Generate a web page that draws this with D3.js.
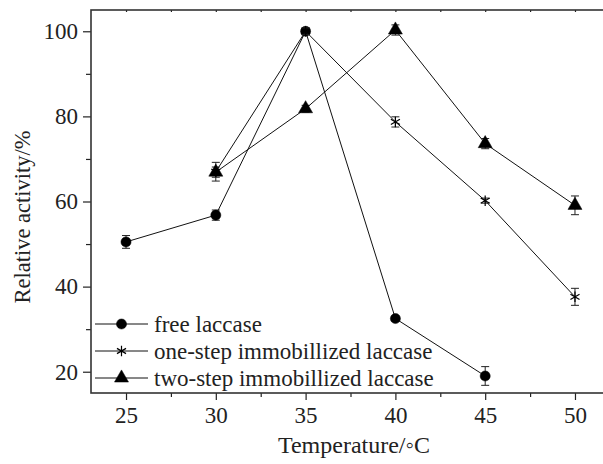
<!DOCTYPE html>
<html>
<head>
<meta charset="utf-8">
<script src="https://cdn.jsdelivr.net/npm/d3@7"></script>
<style>
  body { margin: 0; background: #fff; }
  svg { display: block; font-family: "Liberation Serif", "Times New Roman", serif; }
  .axis path { display: none; }
  .axis line { stroke: #222; stroke-width: 1.2; }
  .axis text { fill: #222; font-size: 23px; font-family: "Liberation Serif", serif; }
</style>
</head>
<body>
<div id="chart"></div>
<script>
// Data
var temps = [25, 30, 35, 40, 45, 50];

var freeTemps = [25, 30, 35, 40, 45];
var freeVals = [50.5, 56.8, 100, 32.5, 19.0];
var freeErr = [1.5, 1.2, 0.8, 0.6, 2.2];

var oneTemps = [30, 35, 40, 45, 50];
var oneVals = [67.0, 100, 78.7, 60.2, 37.6];
var oneErr = [2.2, 0.8, 1.2, 0.6, 2.0];

var twoTemps = [30, 35, 40, 45, 50];
var twoVals = [66.9, 81.8, 100.3, 73.6, 59.1];
var twoErr = [1.2, 0.8, 1.2, 1.2, 2.2];

var yTicks = [20, 40, 60, 80, 100];
var yMinor = [30, 50, 70, 90];
var xMinor = [27.5, 32.5, 37.5, 42.5, 47.5];

var legendLabels = ["free laccase", "one-step immobillized laccase", "two-step immobillized laccase"];

// Setup the chart
var svgWidth = 603;
var svgHeight = 464;

var margin = { top: 10, right: -7, bottom: 71, left: 91 };
var width = svgWidth - margin.left - margin.right;
var height = svgHeight - margin.top - margin.bottom;

var svg = d3.select("#chart")
  .append("svg")
  .attr("width", svgWidth)
  .attr("height", svgHeight);

var chartGroup = svg.append("g")
  .attr("transform", `translate(${margin.left}, ${margin.top})`);

var xScale = d3.scaleLinear().domain([23.05, 51.95]).range([0, width]);
var yScale = d3.scaleLinear().domain([15, 105]).range([height, 0]);

// minor ticks
chartGroup.append("g")
  .attr("class", "axis")
  .call(d3.axisLeft(yScale).tickValues(yMinor).tickSize(5).tickFormat(""));
chartGroup.append("g")
  .attr("class", "axis")
  .attr("transform", `translate(0, ${height})`)
  .call(d3.axisBottom(xScale).tickValues(xMinor).tickSize(4).tickFormat(""));
chartGroup.append("g")
  .attr("class", "axis")
  .call(d3.axisBottom(xScale).tickValues(temps.concat(xMinor)).tickSize(2).tickFormat(""));

// major ticks
chartGroup.append("g")
  .attr("class", "axis")
  .call(d3.axisLeft(yScale).tickValues(yTicks).tickSize(8).tickPadding(5));
chartGroup.append("g")
  .attr("class", "axis")
  .attr("transform", `translate(0, ${height})`)
  .call(d3.axisBottom(xScale).tickValues(temps).tickSize(7).tickPadding(7));

// frame
chartGroup.append("rect")
  .attr("width", width)
  .attr("height", height)
  .attr("fill", "none")
  .attr("stroke", "#333")
  .attr("stroke-width", 1.6);

// axis labels
chartGroup.append("text")
  .attr("transform", "rotate(-90)")
  .attr("x", -207)
  .attr("y", -61)
  .style("text-anchor", "middle")
  .style("font-size", "22.5px")
  .attr("fill", "#222")
  .text("Relative activity/%");

chartGroup.append("text")
  .attr("x", 263)
  .attr("y", height + 60)
  .style("text-anchor", "middle")
  .style("font-size", "24px")
  .attr("fill", "#222")
  .text("Temperature/◦C");

// markers
var asterisk = {
  draw: function(ctx, size) {
    var r = Math.sqrt(size) / 2;
    for (var i = 0; i < 3; i++) {
      var a = Math.PI / 2 + i * Math.PI / 3;
      ctx.moveTo(r * Math.cos(a), r * Math.sin(a));
      ctx.lineTo(-r * Math.cos(a), -r * Math.sin(a));
    }
  }
};

var series = [
  { t: freeTemps, v: freeVals, e: freeErr, sym: d3.symbolCircle, size: 80, fill: true },
  { t: oneTemps, v: oneVals, e: oneErr, sym: asterisk, size: 110, fill: false },
  { t: twoTemps, v: twoVals, e: twoErr, sym: d3.symbolTriangle, size: 85, fill: true }
];

var line = d3.line()
  .x(d => xScale(d.t))
  .y(d => yScale(d.v));

series.forEach(function(s) {
  var pts = s.t.map((t, i) => ({ t: t, v: s.v[i], e: s.e[i] }));

  chartGroup.append("path")
    .datum(pts)
    .attr("d", line)
    .attr("fill", "none")
    .attr("stroke", "#111")
    .attr("stroke-width", 1);

  // error bars
  var eb = chartGroup.append("g").selectAll("g")
    .data(pts)
    .enter()
    .append("g")
    .attr("stroke", "#222")
    .attr("stroke-width", 1);
  eb.append("line")
    .attr("x1", d => xScale(d.t)).attr("x2", d => xScale(d.t))
    .attr("y1", d => yScale(d.v - d.e)).attr("y2", d => yScale(d.v + d.e));
  eb.append("line")
    .attr("x1", d => xScale(d.t) - 4).attr("x2", d => xScale(d.t) + 4)
    .attr("y1", d => yScale(d.v + d.e)).attr("y2", d => yScale(d.v + d.e));
  eb.append("line")
    .attr("x1", d => xScale(d.t) - 4).attr("x2", d => xScale(d.t) + 4)
    .attr("y1", d => yScale(d.v - d.e)).attr("y2", d => yScale(d.v - d.e));

  chartGroup.append("g").selectAll("path")
    .data(pts)
    .enter()
    .append("path")
    .attr("transform", d => `translate(${xScale(d.t)}, ${yScale(d.v)})`)
    .attr("d", d3.symbol().type(s.sym).size(s.size))
    .attr("fill", s.fill ? "#000" : "none")
    .attr("stroke", "#000")
    .attr("stroke-width", s.fill ? 0.5 : 1.2);
});

// legend
var legend = chartGroup.append("g")
  .attr("transform", "translate(4, 0)")
  .selectAll("g")
  .data(series)
  .enter()
  .append("g")
  .attr("transform", (d, i) => `translate(0, ${314 + i * 27})`);

legend.append("line")
  .attr("x1", 0).attr("x2", 53)
  .attr("stroke", "#111")
  .attr("stroke-width", 1);
legend.append("path")
  .attr("transform", "translate(26.5, 0)")
  .attr("d", d => d3.symbol().type(d.sym).size(d.size)())
  .attr("fill", d => d.fill ? "#000" : "none")
  .attr("stroke", "#000")
  .attr("stroke-width", d => d.fill ? 0.5 : 1.2);
legend.append("text")
  .attr("x", 59)
  .attr("y", 7.5)
  .style("font-size", "23px")
  .attr("fill", "#222")
  .text((d, i) => legendLabels[i]);
</script>
</body>
</html>
